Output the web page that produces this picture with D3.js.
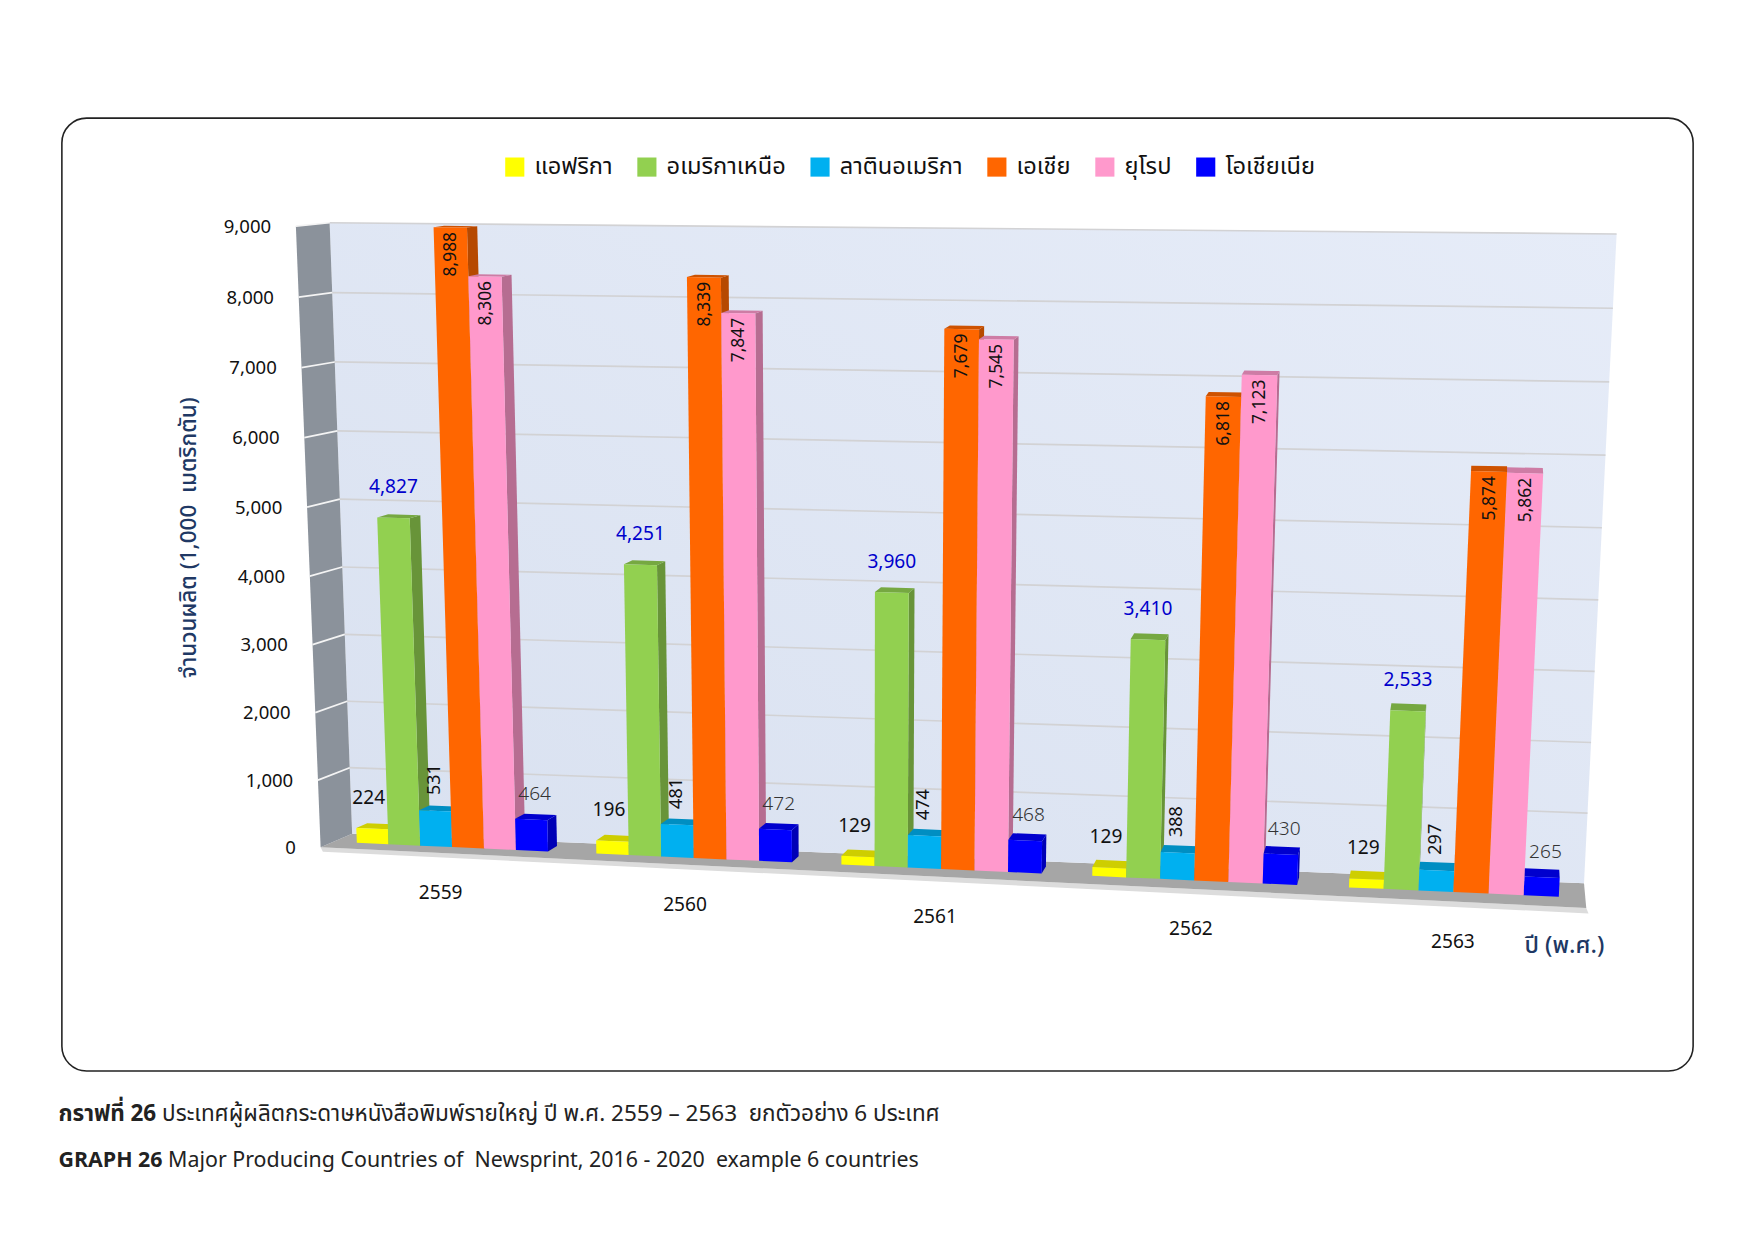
<!DOCTYPE html>
<html>
<head>
<meta charset="utf-8">
<script src="https://cdn.jsdelivr.net/npm/d3@7"></script>
<style>
  body { margin: 0; background: #fff; }
  text { font-family: "Noto Sans Thai", "Noto Sans", "Liberation Sans", sans-serif; white-space: pre; }
</style>
</head>
<body>
<svg id="chart"></svg>
<script>
// ---- data ----
var years = ['2559', '2560', '2561', '2562', '2563'];
var seriesNames = ['แอฟริกา', 'อเมริกาเหนือ', 'ลาตินอเมริกา', 'เอเชีย', 'ยุโรป', 'โอเชียเนีย'];
var africa = [224, 196, 129, 129, 129];
var northAmerica = [4827, 4251, 3960, 3410, 2533];
var latinAmerica = [531, 481, 474, 388, 297];
var asia = [8988, 8339, 7679, 6818, 5874];
var europe = [8306, 7847, 7545, 7123, 5862];
var oceania = [464, 472, 468, 430, 265];
var yTicks = [0, 1000, 2000, 3000, 4000, 5000, 6000, 7000, 8000, 9000];
var yTitle = 'จำนวนผลิต (1,000  เมตริกตัน)';
var xTitle = 'ปี (พ.ศ.)';
var captionTh = ['กราฟที่ 26', ' ประเทศผู้ผลิตกระดาษหนังสือพิมพ์รายใหญ่ ปี พ.ศ. 2559 – 2563  ยกตัวอย่าง 6 ประเทศ'];
var captionEn = ['GRAPH 26', ' Major Producing Countries of  Newsprint, 2016 - 2020  example 6 countries'];

var seriesValues = [africa, northAmerica, latinAmerica, asia, europe, oceania];
var palette = ['#ffff00', '#92d050', '#00b0f0', '#ff6600', '#ff99cc', '#0000ff'];
// how each series writes its value labels
var labelMode = ['above', 'above', 'rotAbove', 'rotInside', 'rotInside', 'above'];
var labelColor = ['#111', '#0000cc', '#111', '#111', '#111', '#333'];

// ---- canvas ----
var W = 1560, H = 1103.1;
var svg = d3.select('#chart')
    .attr('width', 1755).attr('height', 1241)
    .attr('viewBox', '0 0 ' + W + ' ' + H);

// ---- 3d box of the plot (screen corners of front and back planes) ----
var front = {lb: [285, 753], rb: [1410, 807], lt: [263, 201], rt: [1440, 219]};
var back = {lb: [313, 741], rb: [1408, 785], lt: [293, 198], rt: [1437, 208]};

function lerp(a, b, t) { return [a[0] + (b[0] - a[0]) * t, a[1] + (b[1] - a[1]) * t]; }
function plane(c, u, t) { return lerp(lerp(c.lb, c.rb, u), lerp(c.lt, c.rt, u), t); }
function warpU(u) { return u / (u + 1.06 * (1 - u)); }
function warpT(t) { return t / (t + 1.033 * (1 - t)); }
function P(u, t, z) {
    var uu = warpU(u), tt = warpT(t);
    return lerp(plane(front, uu, tt), plane(back, uu, tt), z);
}

var x = d3.scaleBand().domain(years).range([0, 1]).paddingInner(0.2).paddingOuter(0.1);
var xs = d3.scaleBand().domain(d3.range(seriesNames.length)).range([0, x.bandwidth()]);
var y = d3.scaleLinear().domain([0, 9000]).range([0, 1]);
var z0 = 0.4, z1 = 0.75;

var poly = function (pts) { return 'M' + pts.map(function (p) { return p[0].toFixed(1) + ',' + p[1].toFixed(1); }).join('L') + 'Z'; };

// frame
svg.append('rect')
    .attr('x', 55).attr('y', 105).attr('width', 1450).attr('height', 847)
    .attr('rx', 22).attr('fill', 'none').attr('stroke', '#222').attr('stroke-width', 1.4);

var defs = svg.append('defs');
var g1 = defs.append('linearGradient').attr('id', 'wallGrad')
    .attr('x1', '0').attr('y1', '1').attr('x2', '1').attr('y2', '0');
g1.append('stop').attr('offset', '0').attr('stop-color', '#d9e1f0');
g1.append('stop').attr('offset', '1').attr('stop-color', '#e6ecf8');

var plot = svg.append('g');

// floor shadow + floor
var fl = P(0, 0, 0), fr = P(1, 0, 0);
plot.append('path')
    .attr('d', poly([fl, fr, [fr[0] + 2, fr[1] + 5], [fl[0] + 2, fl[1] + 4]]))
    .attr('fill', '#dcdcdc');
plot.append('path')
    .attr('d', poly([P(0, 0, 0), P(1, 0, 0), P(1, 0, 1), P(0, 0, 1)]))
    .attr('fill', '#a6a6a6');
// back wall
plot.append('path')
    .attr('d', poly([P(0, 0, 1), P(1, 0, 1), P(1, 1, 1), P(0, 1, 1)]))
    .attr('fill', 'url(#wallGrad)');
// side wall
plot.append('path')
    .attr('d', poly([P(0, 0, 0), P(0, 0, 1), P(0, 1, 1), P(0, 1, 0)]))
    .attr('fill', '#8b929b');

// gridlines and tick labels
yTicks.forEach(function (v) {
    var t = y(v);
    if (v > 0) {
        var a = P(0, t, 1), b = P(1, t, 1);
        plot.append('line').attr('x1', a[0]).attr('y1', a[1]).attr('x2', b[0]).attr('y2', b[1])
            .attr('stroke', '#d2d2d4').attr('stroke-width', 1.5);
        var c = P(0, t, 0);
        plot.append('line').attr('x1', c[0]).attr('y1', c[1]).attr('x2', a[0]).attr('y2', a[1])
            .attr('stroke', '#f4f4f4').attr('stroke-width', 1.5);
    }
    var p = P(0, t, 0);
    svg.append('text')
        .attr('x', p[0] - 22).attr('y', p[1] + 6)
        .attr('text-anchor', 'end')
        .attr('font-size', 16.5).attr('fill', '#111')
        .text(d3.format(',')(v));
});

// ---- bars ----
var bars = [];
years.forEach(function (yr, i) {
    seriesValues.forEach(function (vals, j) {
        var u0 = x(yr) + xs(j), u1 = u0 + xs.bandwidth(), t1 = y(vals[i]);
        var dx = P(u1, t1, z1)[0] - P(u1, t1, z0)[0];
        bars.push({i: i, j: j, u0: u0, u1: u1, t1: t1, v: vals[i], dx: dx});
    });
});
var rightward = bars.filter(function (b) { return b.dx > 0; });
var leftward = bars.filter(function (b) { return b.dx <= 0; }).reverse();

rightward.concat(leftward).forEach(function (b) {
    var col = d3.color(palette[b.j]);
    var g = plot.append('g');
    var su = b.dx > 0 ? b.u1 : b.u0;
    g.append('path').attr('d', poly([P(su, 0, z0), P(su, 0, z1), P(su, b.t1, z1), P(su, b.t1, z0)]))
        .attr('fill', col.darker(0.95));
    g.append('path').attr('d', poly([P(b.u0, b.t1, z0), P(b.u1, b.t1, z0), P(b.u1, b.t1, z1), P(b.u0, b.t1, z1)]))
        .attr('fill', col.darker(0.6));
    g.append('path').attr('d', poly([P(b.u0, 0, z0), P(b.u1, 0, z0), P(b.u1, b.t1, z0), P(b.u0, b.t1, z0)]))
        .attr('fill', col);
});

// ---- value labels ----
var fmt = d3.format(',');
bars.forEach(function (b) {
    var top = P((b.u0 + b.u1) / 2, b.t1, z0);
    var mode = labelMode[b.j];
    var lab = svg.append('text').attr('fill', labelColor[b.j]).text(fmt(b.v));
    if (mode === 'above') {
        var off = [22, 22, 0, 0, 0, 17][b.j];
        var shift = [-3, 0, 0, 0, 0, 3][b.j];
        lab.attr('x', top[0] + shift).attr('y', top[1] - off)
            .attr('text-anchor', 'middle').attr('font-size', 17);
        if (b.j === 5) lab.attr('font-weight', 300).attr('font-family', 'Lato, "Open Sans", sans-serif');
    } else if (mode === 'rotAbove') {
        lab.attr('transform', 'translate(' + (top[0] + 4) + ',' + (top[1] - 14) + ') rotate(-90)')
            .attr('text-anchor', 'start').attr('font-size', 16)
            .attr('font-family', '"DejaVu Sans", sans-serif');
    } else {
        lab.attr('transform', 'translate(' + (top[0] + 5) + ',' + (top[1] + 4) + ') rotate(-90)')
            .attr('text-anchor', 'end').attr('font-size', 15.5)
            .attr('font-family', '"DejaVu Sans", sans-serif');
    }
});

// ---- category labels ----
years.forEach(function (yr) {
    var p = P(x(yr) + x.bandwidth() / 2, 0, 0);
    svg.append('text').attr('x', p[0]).attr('y', p[1] + 41)
        .attr('text-anchor', 'middle').attr('font-size', 17).attr('fill', '#111')
        .text(yr);
});
svg.append('text').attr('x', 1355).attr('y', 847)
    .attr('font-size', 21).attr('font-weight', 500).attr('fill', '#203864').text(xTitle);

// y title
svg.append('text')
    .attr('transform', 'translate(174,478) rotate(-90)')
    .attr('text-anchor', 'middle').attr('font-size', 20).attr('font-weight', 500).attr('fill', '#203864')
    .text(yTitle);

// ---- legend ----
var legend = svg.append('g');
var cursor = 0, gap = 22;
seriesNames.forEach(function (name, j) {
    var it = legend.append('g').attr('transform', 'translate(' + cursor + ',0)');
    it.append('rect').attr('x', 0).attr('y', -7).attr('width', 17).attr('height', 17).attr('fill', palette[j]);
    var t = it.append('text').attr('x', 26).attr('y', 8).attr('font-size', 21).attr('fill', '#111').text(name);
    cursor += 26 + t.node().getComputedTextLength() + gap;
});
cursor -= gap;
legend.attr('transform', 'translate(' + (809 - cursor / 2) + ',147)');

// ---- caption ----
var c1 = svg.append('text').attr('x', 52).attr('y', 996).attr('font-size', 20).attr('fill', '#222');
c1.append('tspan').attr('font-weight', 'bold').text(captionTh[0]);
c1.append('tspan').text(captionTh[1]);
var c2 = svg.append('text').attr('x', 52).attr('y', 1037).attr('font-size', 19).attr('fill', '#222');
c2.append('tspan').attr('font-weight', 'bold').text(captionEn[0]);
c2.append('tspan').text(captionEn[1]);
</script>
</body>
</html>
